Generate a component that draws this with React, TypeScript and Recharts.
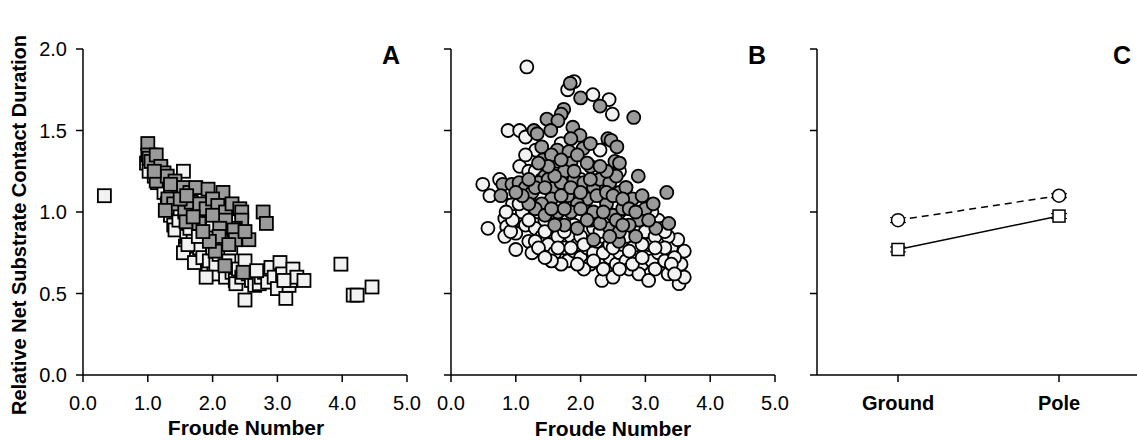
import React from 'react';
import { ScatterChart, Scatter, XAxis, YAxis, LineChart, Line, ErrorBar } from 'recharts';

const FONT = '"Liberation Sans", Arial, Helvetica, sans-serif';

const froudeTicks = [0, 1, 2, 3, 4, 5];
const durationTicks = [0, 0.5, 1, 1.5, 2];

// Panel A: squares
const aWhite: [number, number][] = [
  [0.33, 1.10], [0.98, 1.30], [1.02, 1.25], [1.05, 1.35], [1.1, 1.22], [1.15, 1.18], [1.2, 1.27], [1.25, 1.12],
  [1.3, 1.05], [1.35, 0.98], [1.4, 0.92], [1.42, 0.89], [1.48, 0.95], [1.55, 1.25], [1.5, 1.02], [1.58, 0.79],
  [1.6, 0.85], [1.65, 0.9], [1.55, 0.75], [1.7, 0.82], [1.72, 0.69], [1.75, 0.95], [1.8, 0.78], [1.85, 0.72],
  [1.9, 0.86], [1.93, 0.64], [1.95, 0.7], [2.0, 0.78], [2.02, 0.62], [2.05, 0.68], [2.1, 0.74], [2.15, 0.82],
  [2.2, 0.6], [2.25, 0.7], [2.3, 0.63], [2.35, 0.58], [2.36, 0.56], [2.4, 0.65], [2.45, 0.6], [2.5, 0.46],
  [2.55, 0.62], [2.6, 0.58], [2.65, 0.55], [2.72, 0.56], [2.75, 0.6], [2.8, 0.63], [2.85, 0.57], [2.9, 0.66],
  [2.95, 0.6], [3.0, 0.53], [3.04, 0.69], [3.08, 0.62], [3.13, 0.47], [3.18, 0.55], [3.2, 0.58], [3.24, 0.65],
  [3.3, 0.6], [3.41, 0.58], [3.98, 0.68], [4.17, 0.49], [4.23, 0.49], [4.46, 0.54], [1.45, 1.1], [1.6, 1.05],
  [1.8, 1.0], [2.0, 0.92], [2.2, 0.88], [1.35, 1.15], [1.15, 1.25], [1.9, 0.6], [1.62, 0.8], [1.78, 0.85],
  [2.28, 0.78], [2.5, 0.7], [2.68, 0.64], [3.1, 0.58],
];
const aGray: [number, number][] = [
  [1.0, 1.42], [1.0, 1.35], [1.02, 1.33], [1.05, 1.31], [1.13, 1.35], [1.2, 1.28], [1.25, 1.24], [1.13, 1.19],
  [1.3, 1.22], [1.42, 1.19], [1.47, 1.13], [1.55, 1.15], [1.65, 1.12], [1.74, 1.15], [1.93, 1.14], [2.16, 1.12],
  [1.31, 1.08], [1.4, 1.05], [1.27, 1.01], [1.57, 1.0], [1.67, 1.06], [1.8, 1.05], [1.9, 1.02], [2.0, 1.08],
  [2.08, 1.04], [2.2, 1.0], [2.3, 1.05], [2.42, 1.02], [2.45, 1.0], [2.78, 1.0], [2.83, 0.93], [2.45, 0.95],
  [2.35, 0.9], [2.2, 0.95], [1.59, 0.94], [1.79, 0.93], [1.7, 0.97], [2.0, 0.98], [2.11, 0.9], [2.1, 0.85],
  [2.33, 0.89], [2.35, 0.83], [2.56, 0.83], [2.5, 0.88], [2.04, 0.76], [1.95, 0.82], [2.19, 0.67], [2.47, 0.63],
  [1.85, 0.88], [2.25, 0.8], [1.5, 1.08], [1.1, 1.25], [1.35, 1.17], [1.6, 1.1],
];

// Panel B: circles
const bWhite: [number, number][] = [
  [1.17, 1.89], [1.90, 1.80], [1.80, 1.75], [2.19, 1.72], [2.44, 1.69], [2.49, 1.60], [0.88, 1.50], [1.06, 1.50],
  [1.15, 1.46], [1.31, 1.38], [1.06, 1.28], [1.20, 1.25], [2.22, 1.27], [1.9, 1.35], [1.7, 1.42], [2.3, 1.38],
  [0.49, 1.17], [0.60, 1.10], [0.57, 0.90], [0.83, 0.96], [0.86, 0.91], [0.83, 0.85], [1.0, 0.87], [1.0, 0.77],
  [0.92, 0.88], [1.05, 0.95], [0.95, 1.05], [1.1, 1.0], [1.15, 0.92], [0.75, 1.2], [0.9, 1.12],
  [1.3, 0.9], [1.4, 0.85], [1.5, 0.8], [1.55, 0.88], [1.6, 0.75], [1.7, 0.82], [1.75, 0.78], [1.8, 0.7],
  [1.85, 0.85], [1.9, 0.76], [1.95, 0.8], [2.0, 0.72], [2.05, 0.88], [2.1, 0.78], [2.15, 0.68], [2.2, 0.75],
  [2.25, 0.82], [2.33, 0.58], [2.3, 0.7], [2.4, 0.77], [2.45, 0.72], [2.5, 0.85], [2.55, 0.68], [2.6, 0.75],
  [2.65, 0.8], [2.7, 0.7], [2.75, 0.65], [2.8, 0.78], [2.85, 0.72], [2.9, 0.85], [2.95, 0.68], [3.0, 0.75],
  [3.05, 0.8], [3.1, 0.7], [3.15, 0.65], [3.2, 0.75], [3.25, 0.83], [3.3, 0.7], [3.35, 0.62], [3.4, 0.78],
  [3.5, 0.83], [3.6, 0.76], [3.55, 0.68], [3.52, 0.56], [3.6, 0.6], [3.45, 0.72], [3.1, 0.92], [3.2, 0.95],
  [3.0, 1.0], [2.9, 0.95], [2.8, 1.05], [3.25, 0.9], [1.35, 1.0], [1.45, 0.95], [1.6, 0.98], [1.65, 1.05],
  [1.8, 0.95], [2.0, 0.98], [2.2, 0.9], [2.4, 0.95], [2.6, 1.0], [1.25, 1.1], [1.5, 1.15], [2.7, 1.15],
  [2.75, 0.9], [2.1, 1.0], [1.4, 1.08], [1.2, 0.82], [1.25, 0.75], [1.7, 0.68], [2.05, 0.65], [2.5, 0.6],
  [2.9, 0.62], [3.05, 0.58], [1.55, 0.7], [1.3, 0.82], [2.35, 0.85], [2.65, 0.88], [2.95, 0.8], [3.35, 0.85],
  [2.0, 1.2], [2.6, 1.25],
  [1.1, 1.15], [1.2, 1.18], [1.3, 1.25], [1.45, 1.3], [1.6, 1.28], [1.35, 0.78], [1.45, 0.72], [1.65, 0.85],
  [1.75, 0.88], [1.9, 0.92], [2.0, 0.85], [2.15, 0.95], [2.25, 0.98], [2.35, 0.75], [2.45, 0.8], [2.55, 0.9],
  [2.7, 0.85], [2.85, 0.88], [3.0, 0.88], [3.15, 0.85], [3.3, 0.78], [3.4, 0.68], [3.45, 0.62], [2.8, 0.68],
  [2.6, 0.65], [2.35, 0.65], [2.2, 0.7], [1.95, 0.68], [1.85, 0.78], [1.65, 0.78], [1.05, 1.05], [0.95, 0.95],
  [0.85, 1.0], [1.2, 0.95], [1.45, 0.88], [2.05, 0.8], [2.3, 0.88], [2.5, 0.78], [2.75, 0.76], [2.95, 0.72],
  [3.15, 0.78], [3.3, 0.88], [3.1, 1.0], [2.9, 1.05], [2.55, 1.05], [2.05, 1.1], [1.55, 1.0], [1.15, 1.35],
  [1.4, 1.2], [1.75, 1.12],
];
const bGray: [number, number][] = [
  [1.84, 1.79], [2.0, 1.70], [2.3, 1.65], [2.82, 1.58], [1.74, 1.63], [1.70, 1.60], [1.48, 1.57], [1.65, 1.56],
  [1.28, 1.50], [1.33, 1.48], [1.54, 1.50], [1.88, 1.52], [1.99, 1.47], [2.42, 1.45], [2.47, 1.44], [2.56, 1.40],
  [2.53, 1.31], [1.4, 1.40], [1.64, 1.38], [1.82, 1.37], [2.04, 1.39], [1.42, 1.32], [1.65, 1.31], [1.55, 1.35],
  [1.85, 1.3], [1.75, 1.25], [1.45, 1.22], [2.89, 1.22], [3.33, 1.12], [0.80, 1.17], [0.94, 1.17], [0.77, 1.10],
  [1.05, 1.18], [1.15, 1.15], [1.25, 1.12], [1.35, 1.18], [1.5, 1.2], [1.6, 1.15], [1.7, 1.18], [1.9, 1.2],
  [2.05, 1.18], [2.2, 1.15], [2.3, 1.2], [2.45, 1.18], [2.6, 1.12], [2.7, 1.15], [2.55, 1.22], [2.35, 1.1],
  [2.1, 1.08], [1.95, 1.05], [1.8, 1.1], [1.55, 1.08], [1.4, 1.05], [1.3, 1.02], [1.2, 1.05], [1.1, 1.1],
  [1.0, 1.12], [1.45, 0.98], [1.65, 1.0], [1.85, 1.0], [2.0, 1.02], [2.2, 1.0], [2.4, 1.05], [2.5, 0.98],
  [2.65, 1.02], [2.8, 1.08], [2.95, 1.1], [3.0, 1.02], [3.12, 1.05], [2.9, 0.95], [3.16, 0.90], [3.36, 0.93],
  [2.59, 0.82], [2.2, 0.83], [2.45, 0.9], [2.75, 0.92], [2.3, 0.93], [1.75, 0.92], [1.95, 0.9], [2.6, 0.88],
  [1.6, 0.92], [1.9, 1.25], [2.15, 1.28], [2.4, 1.25],
  [1.3, 1.15], [1.45, 1.15], [1.6, 1.22], [1.7, 1.1], [1.85, 1.15], [2.0, 1.12], [2.15, 1.2], [2.25, 1.1],
  [2.4, 1.12], [2.5, 1.1], [2.65, 1.08], [2.75, 1.02], [2.85, 1.0], [1.5, 1.28], [1.7, 1.32], [1.95, 1.35],
  [2.1, 1.3], [2.3, 1.28], [1.35, 1.3], [1.2, 1.2], [1.55, 1.02], [1.75, 1.02], [2.1, 0.95], [2.55, 0.95],
  [2.35, 1.0], [2.65, 0.92], [3.05, 0.95], [2.85, 0.85], [2.45, 0.85], [1.85, 1.45], [2.15, 1.42], [2.6, 1.3],
];

// Panel C
const categories = ['Ground', 'Pole'];
const circleMeans = [0.95, 1.10];
const circleErrs = [0.015, 0.012];
const squareMeans = [0.77, 0.975];
const squareErrs = [0.015, 0.015];

const toPts = (arr: [number, number][]) => arr.map(([x, y]) => ({ x, y }));
const cData = categories.map((c, i) => ({
  cat: c,
  circ: circleMeans[i],
  circErr: circleErrs[i],
  sq: squareMeans[i],
  sqErr: squareErrs[i],
}));

const WHITE = '#f2f2f2';
const GRAY = '#9a9a9a';
const tickStyle = { fill: '#000', fontSize: 20, fontFamily: FONT };
const axisLine = { stroke: '#000', strokeWidth: 1.5 };
const tickLine = { stroke: '#000', strokeWidth: 1.5 };
const fmt1 = (v: number) => v.toFixed(1);

const makeSquare = (fill: string) => (p: any) => (
  <rect x={p.cx - 6.5} y={p.cy - 6.5} width={13} height={13} fill={fill} stroke="#000" strokeWidth={1.8} />
);
const makeCircle = (fill: string) => (p: any) => (
  <circle cx={p.cx} cy={p.cy} r={6.5} fill={fill} stroke="#000" strokeWidth={1.8} />
);

function ScatterPanel({ left, width, marginLeft, marginRight, white, gray, kind, showY }: any) {
  const mk = kind === 'square' ? makeSquare : makeCircle;
  return (
    <div style={{ position: 'absolute', left, top: 0 }}>
      <ScatterChart width={width} height={440} margin={{ top: 49, right: marginRight, bottom: 35, left: marginLeft }}>
        <XAxis
          type="number"
          dataKey="x"
          domain={[0, 5]}
          ticks={froudeTicks}
          tickFormatter={fmt1}
          tick={tickStyle}
          tickSize={7}
          tickMargin={14}
          axisLine={axisLine}
          tickLine={tickLine}
          height={30}
          allowDataOverflow
        />
        <YAxis
          type="number"
          dataKey="y"
          domain={[0, 2]}
          ticks={durationTicks}
          tickFormatter={showY ? fmt1 : () => ''}
          tick={tickStyle}
          tickSize={7}
          tickMargin={9}
          axisLine={axisLine}
          tickLine={tickLine}
          width={60}
          allowDataOverflow
        />
        <Scatter data={toPts(white)} shape={mk(WHITE)} isAnimationActive={false} />
        <Scatter data={toPts(gray)} shape={mk(GRAY)} isAnimationActive={false} />
      </ScatterChart>
    </div>
  );
}

const SquareDot = (p: any) => (
  <rect key={`sq-${p.index}`} x={p.cx - 6} y={p.cy - 6} width={12} height={12} fill="#fff" stroke="#000" strokeWidth={1.5} />
);
const CircleDot = (p: any) => (
  <circle key={`ci-${p.index}`} cx={p.cx} cy={p.cy} r={6.5} fill="#fff" stroke="#000" strokeWidth={1.5} />
);

export default function App() {
  return (
    <div style={{ position: 'absolute', left: 0, top: 0, width: 1137, height: 440, overflow: 'hidden', background: '#fff' }}>
      <ScatterPanel left={0} width={460} marginLeft={23} marginRight={53} white={aWhite} gray={aGray} kind="square" showY />
      <ScatterPanel left={380} width={420} marginLeft={11} marginRight={25} white={bWhite} gray={bGray} kind="circle" showY={false} />
      <div style={{ position: 'absolute', left: 760, top: 0 }}>
        <LineChart width={377} height={440} data={cData} margin={{ top: 49, right: 0, bottom: 35, left: 7 }}>
          <XAxis
            dataKey="cat"
            padding={{ left: 81, right: 78 }}
            tick={{ ...tickStyle, fontWeight: 'bold' }}
            tickSize={7}
            tickMargin={14}
            axisLine={axisLine}
            tickLine={tickLine}
            height={30}
          />
          <YAxis
            type="number"
            domain={[0, 2]}
            ticks={durationTicks}
            tickFormatter={() => ''}
            tick={tickStyle}
            tickSize={7}
            axisLine={axisLine}
            tickLine={tickLine}
            width={50}
          />
          <Line dataKey="circ" stroke="#000" strokeWidth={1.5} strokeDasharray="7 5" isAnimationActive={false} dot={CircleDot}>
            <ErrorBar dataKey="circErr" width={8} stroke="#000" strokeWidth={1} />
          </Line>
          <Line dataKey="sq" stroke="#000" strokeWidth={1.5} isAnimationActive={false} dot={SquareDot}>
            <ErrorBar dataKey="sqErr" width={8} stroke="#000" strokeWidth={1} />
          </Line>
        </LineChart>
      </div>
      <svg width={1137} height={440} style={{ position: 'absolute', left: 0, top: 0, pointerEvents: 'none' }} fontFamily={FONT}>
        <text transform="translate(19,225) rotate(-90)" textAnchor="middle" dominantBaseline="central" fontWeight="bold" fontSize={20}>
          Relative Net Substrate Contact Duration
        </text>
        <text x={246} y={427} textAnchor="middle" dominantBaseline="central" fontWeight="bold" fontSize={21}>Froude Number</text>
        <text x={613} y={428} textAnchor="middle" dominantBaseline="central" fontWeight="bold" fontSize={21}>Froude Number</text>
        <text x={391} y={55} textAnchor="middle" dominantBaseline="central" fontWeight="bold" fontSize={25}>A</text>
        <text x={757} y={55} textAnchor="middle" dominantBaseline="central" fontWeight="bold" fontSize={25}>B</text>
        <text x={1122} y={55} textAnchor="middle" dominantBaseline="central" fontWeight="bold" fontSize={25}>C</text>
      </svg>
    </div>
  );
}
